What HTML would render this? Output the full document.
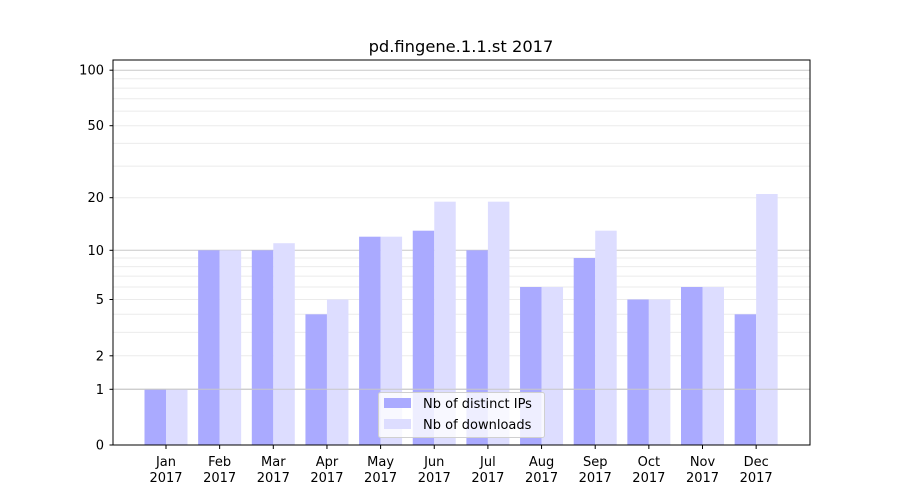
<!DOCTYPE html>
<html><head><meta charset="utf-8"><style>body{margin:0;background:#fff}svg{display:block}text{font-family:"DejaVu Sans","Liberation Sans",sans-serif;fill:#000}</style></head>
<body>
<svg width="900" height="500" viewBox="0 0 900 500" xmlns="http://www.w3.org/2000/svg">
<rect width="900" height="500" fill="#fff"/>
<g stroke="#ebebeb" stroke-width="1">
<line x1="113" x2="810" y1="355.8" y2="355.8"/><line x1="113" x2="810" y1="332.4" y2="332.4"/>
<line x1="113" x2="810" y1="314.3" y2="314.3"/><line x1="113" x2="810" y1="299.5" y2="299.5"/>
<line x1="113" x2="810" y1="287" y2="287"/><line x1="113" x2="810" y1="276.1" y2="276.1"/>
<line x1="113" x2="810" y1="266.6" y2="266.6"/><line x1="113" x2="810" y1="258" y2="258"/>
<line x1="113" x2="810" y1="197.7" y2="197.7"/><line x1="113" x2="810" y1="166.1" y2="166.1"/>
<line x1="113" x2="810" y1="143.4" y2="143.4"/><line x1="113" x2="810" y1="125.7" y2="125.7"/>
<line x1="113" x2="810" y1="111.1" y2="111.1"/><line x1="113" x2="810" y1="98.8" y2="98.8"/>
<line x1="113" x2="810" y1="88.1" y2="88.1"/><line x1="113" x2="810" y1="78.7" y2="78.7"/>
</g>
<g stroke="#c8c8c8" stroke-width="1">
<line x1="113" x2="810" y1="389.3" y2="389.3"/><line x1="113" x2="810" y1="250.3" y2="250.3"/><line x1="113" x2="810" y1="70.2" y2="70.2"/>
</g>
<g fill="#aaaaff">
<rect x="144.5" y="389.3" width="21.5" height="55.7"/>
<rect x="198.15" y="250.3" width="21.5" height="194.7"/>
<rect x="251.8" y="250.3" width="21.5" height="194.7"/>
<rect x="305.45" y="314.3" width="21.5" height="130.7"/>
<rect x="359.1" y="236.7" width="21.5" height="208.3"/>
<rect x="412.75" y="230.7" width="21.5" height="214.3"/>
<rect x="466.4" y="250.3" width="21.5" height="194.7"/>
<rect x="520.05" y="287" width="21.5" height="158"/>
<rect x="573.7" y="258" width="21.5" height="187"/>
<rect x="627.35" y="299.5" width="21.5" height="145.5"/>
<rect x="681" y="287" width="21.5" height="158"/>
<rect x="734.65" y="314.3" width="21.5" height="130.7"/>
</g>
<g fill="#ddddff">
<rect x="166" y="389.3" width="21.5" height="55.7"/>
<rect x="219.65" y="250.3" width="21.5" height="194.7"/>
<rect x="273.3" y="243.2" width="21.5" height="201.8"/>
<rect x="326.95" y="299.5" width="21.5" height="145.5"/>
<rect x="380.6" y="236.7" width="21.5" height="208.3"/>
<rect x="434.25" y="201.7" width="21.5" height="243.3"/>
<rect x="487.9" y="201.7" width="21.5" height="243.3"/>
<rect x="541.55" y="287" width="21.5" height="158"/>
<rect x="595.2" y="230.7" width="21.5" height="214.3"/>
<rect x="648.85" y="299.5" width="21.5" height="145.5"/>
<rect x="702.5" y="287" width="21.5" height="158"/>
<rect x="756.15" y="194" width="21.5" height="251"/>
</g>
<g stroke="#c8c8c8" stroke-width="1"><line x1="113" x2="810" y1="389.3" y2="389.3"/></g>
<rect x="113" y="60" width="697" height="385" fill="none" stroke="#000" stroke-width="1"/>
<g stroke="#000" stroke-width="1">
<line x1="109.5" x2="113" y1="445" y2="445"/><line x1="109.5" x2="113" y1="389.3" y2="389.3"/>
<line x1="109.5" x2="113" y1="355.8" y2="355.8"/><line x1="109.5" x2="113" y1="299.5" y2="299.5"/>
<line x1="109.5" x2="113" y1="250.3" y2="250.3"/><line x1="109.5" x2="113" y1="197.7" y2="197.7"/>
<line x1="109.5" x2="113" y1="125.7" y2="125.7"/><line x1="109.5" x2="113" y1="70.2" y2="70.2"/>
<line x1="166" x2="166" y1="445" y2="449"/><line x1="219.65" x2="219.65" y1="445" y2="449"/>
<line x1="273.3" x2="273.3" y1="445" y2="449"/><line x1="326.95" x2="326.95" y1="445" y2="449"/>
<line x1="380.6" x2="380.6" y1="445" y2="449"/><line x1="434.25" x2="434.25" y1="445" y2="449"/>
<line x1="487.9" x2="487.9" y1="445" y2="449"/><line x1="541.55" x2="541.55" y1="445" y2="449"/>
<line x1="595.2" x2="595.2" y1="445" y2="449"/><line x1="648.85" x2="648.85" y1="445" y2="449"/>
<line x1="702.5" x2="702.5" y1="445" y2="449"/><line x1="756.15" x2="756.15" y1="445" y2="449"/>
</g>
<g font-size="13" text-anchor="end">
<text x="104" y="449.5">0</text><text x="104" y="393.8">1</text><text x="104" y="360.3">2</text>
<text x="104" y="304">5</text><text x="104" y="254.8">10</text><text x="104" y="202.2">20</text>
<text x="104" y="130.2">50</text><text x="104" y="74.7">100</text>
</g>
<g font-size="13" text-anchor="middle">
<text x="166" y="466">Jan</text><text x="166" y="482">2017</text>
<text x="219.65" y="466">Feb</text><text x="219.65" y="482">2017</text>
<text x="273.3" y="466">Mar</text><text x="273.3" y="482">2017</text>
<text x="326.95" y="466">Apr</text><text x="326.95" y="482">2017</text>
<text x="380.6" y="466">May</text><text x="380.6" y="482">2017</text>
<text x="434.25" y="466">Jun</text><text x="434.25" y="482">2017</text>
<text x="487.9" y="466">Jul</text><text x="487.9" y="482">2017</text>
<text x="541.55" y="466">Aug</text><text x="541.55" y="482">2017</text>
<text x="595.2" y="466">Sep</text><text x="595.2" y="482">2017</text>
<text x="648.85" y="466">Oct</text><text x="648.85" y="482">2017</text>
<text x="702.5" y="466">Nov</text><text x="702.5" y="482">2017</text>
<text x="756.15" y="466">Dec</text><text x="756.15" y="482">2017</text>
<text x="461" y="52" font-size="16.3">pd.fingene.1.1.st 2017</text>
</g>
<rect x="378.5" y="392.5" width="166" height="45" rx="2" fill="#fff" fill-opacity="0.8" stroke="#d0d0d0"/>
<rect x="384" y="398" width="27" height="10" fill="#aaaaff"/>
<rect x="384" y="419" width="27" height="10" fill="#ddddff"/>
<text x="423" y="408" font-size="13">Nb of distinct IPs</text>
<text x="423" y="429" font-size="13">Nb of downloads</text>
</svg>
</body></html>
